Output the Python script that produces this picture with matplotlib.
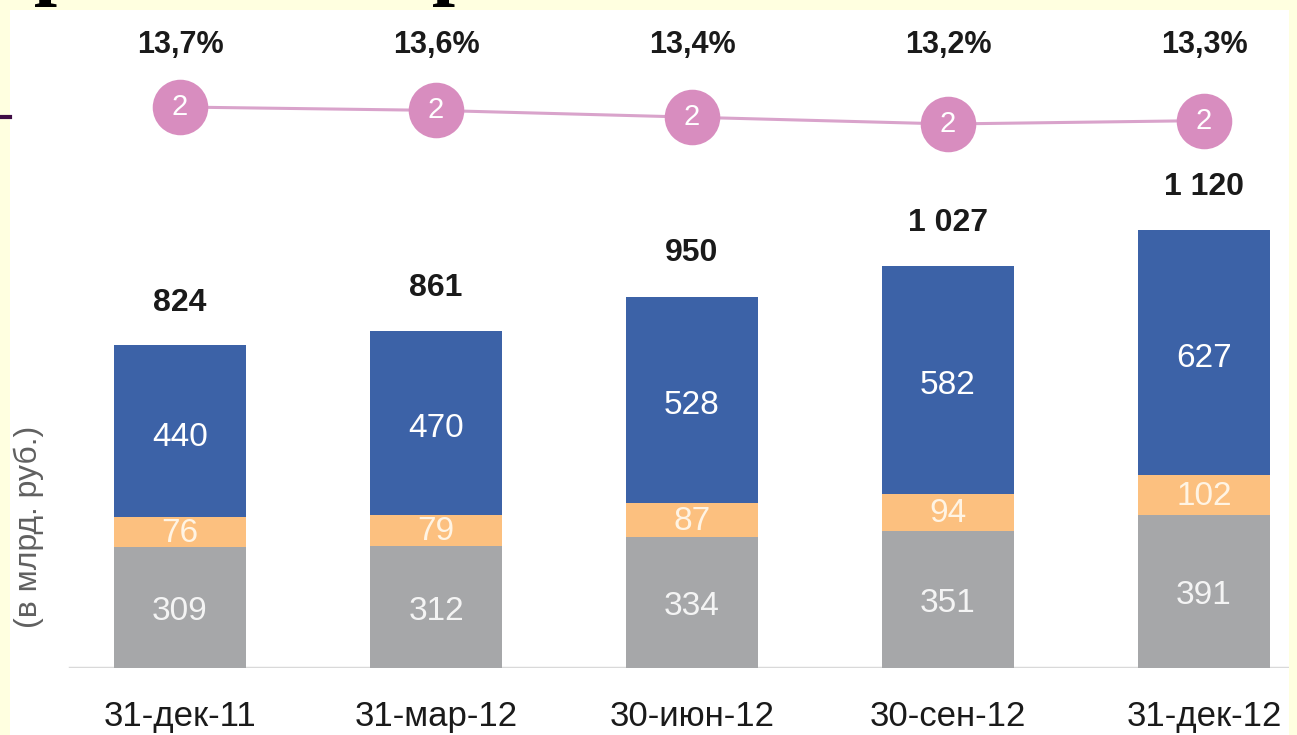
import numpy as np
import matplotlib
matplotlib.use("Agg")
import matplotlib.pyplot as plt
from matplotlib.lines import Line2D

plt.rcParams['font.family'] = ['Liberation Sans', 'DejaVu Sans']

# ---- data ----
dates = ["31-дек-11", "31-мар-12", "30-июн-12", "30-сен-12", "31-дек-12"]
gray_vals = [309, 312, 334, 351, 391]
orange_vals = [76, 79, 87, 94, 102]
blue_vals = [440, 470, 528, 582, 627]
totals = [824, 861, 950, 1027, 1120]
pct = [13.7, 13.6, 13.4, 13.2, 13.3]
marker_lbl = ["2", "2", "2", "2", "2"]

C_BLUE = "#3C62A7"
C_ORANGE = "#FCC07F"
C_GRAY = "#A6A7A9"
C_PINK = "#D88DBF"
C_PINKLINE = "#D9A3CB"

W, H = 1297, 735
fig = plt.figure(figsize=(W / 100, H / 100), dpi=100)
fig.patch.set_facecolor("#FFFFE0")

def px(x0, y0, x1, y1):
    # pixel box (top-left origin) -> figure fraction rect
    return [x0 / W, 1 - y1 / H, (x1 - x0) / W, (y1 - y0) / H]

# white slide area
bg = fig.add_axes(px(10, 10, 1289, 735))
bg.set_facecolor("white"); bg.set_xticks([]); bg.set_yticks([])
for s in bg.spines.values():
    s.set_visible(False)

ax = fig.add_axes(px(10, 10, 1289, 668))
ax.patch.set_alpha(0)
x = np.arange(len(dates))
bw = 0.516
scale = 0.391  # px per unit
ax.set_xlim((10 - 180) / 256, (1289 - 180) / 256)
ax.set_ylim(0, 658 / scale)

ax.bar(x, gray_vals, bw, color=C_GRAY, zorder=2)
ax.bar(x, orange_vals, bw, bottom=gray_vals, color=C_ORANGE, zorder=2)
bot3 = np.array(gray_vals) + np.array(orange_vals)
ax.bar(x, blue_vals, bw, bottom=bot3, color=C_BLUE, zorder=2)

ax.axhline(0, xmin=(70 - 10) / 1279, xmax=1, color="#D9D9D9", lw=2.5, zorder=1)

fs_in = 24
for i in range(len(x)):
    ax.annotate(str(gray_vals[i]), (x[i], gray_vals[i] / 2), xytext=(0, -3),
                textcoords="offset points", ha="center", va="center",
                color="#F4F4F4", fontsize=fs_in)
    ax.annotate(str(orange_vals[i]), (x[i], gray_vals[i] + orange_vals[i] / 2),
                xytext=(0, -1), textcoords="offset points", ha="center", va="center",
                color="#FFF4E4", fontsize=fs_in)
    ax.annotate(str(blue_vals[i]), (x[i], bot3[i] + blue_vals[i] / 2), xytext=(0, -4),
                textcoords="offset points", ha="center", va="center",
                color="white", fontsize=fs_in)
    tot = f"{totals[i]:,}".replace(",", " ")
    ax.annotate(tot, (x[i], totals[i]), xytext=(0, 31), textcoords="offset points",
                ha="center", va="center", color="#1A1A1A", fontsize=23, fontweight="bold")

ax.set_xticks(x)
ax.set_xticklabels(dates, fontsize=25, color="#1A1A1A")
ax.tick_params(axis="x", length=0, pad=23)
ax.set_yticks([])
for s in ax.spines.values():
    s.set_visible(False)

# ---- line with markers ----
lx = ax.twinx()
lx.set_ylim(13.7 - (668 - 107) / 34, 13.7 + (107 - 10) / 34)
lx.plot(x, pct, color=C_PINKLINE, lw=2.2, zorder=3)
lx.plot(x, pct, "o", ms=40, mfc=C_PINK, mec="none", zorder=4)
for i in range(len(x)):
    lx.text(x[i], pct[i], marker_lbl[i], ha="center", va="center",
            color="white", fontsize=21, zorder=5)
    lx.text(x[i], 0.947, f"{pct[i]:.1f}%".replace(".", ","),
            transform=lx.get_xaxis_transform(), ha="center", va="center",
            color="#1A1A1A", fontsize=22, fontweight="bold")
lx.set_yticks([])
for s in lx.spines.values():
    s.set_visible(False)

fig.text(29 / W, 1 - 527 / H, "(в млрд. руб.)", rotation=90, ha="center", va="center",
         color="#606060", fontsize=23)

# cut-off title remnants and slide decoration
for tx in (57, 455):
    fig.text(tx / W, 1 + 11 / H, "р", family="Liberation Serif", fontweight="bold",
             fontsize=60, ha="center", va="baseline", color="black")
fig.add_artist(Line2D([0, 10 / W], [1 - 117 / H] * 2, color="#3F0D44", lw=3,
                      transform=fig.transFigure))

fig.savefig("out.png", dpi=100, facecolor=fig.get_facecolor())
